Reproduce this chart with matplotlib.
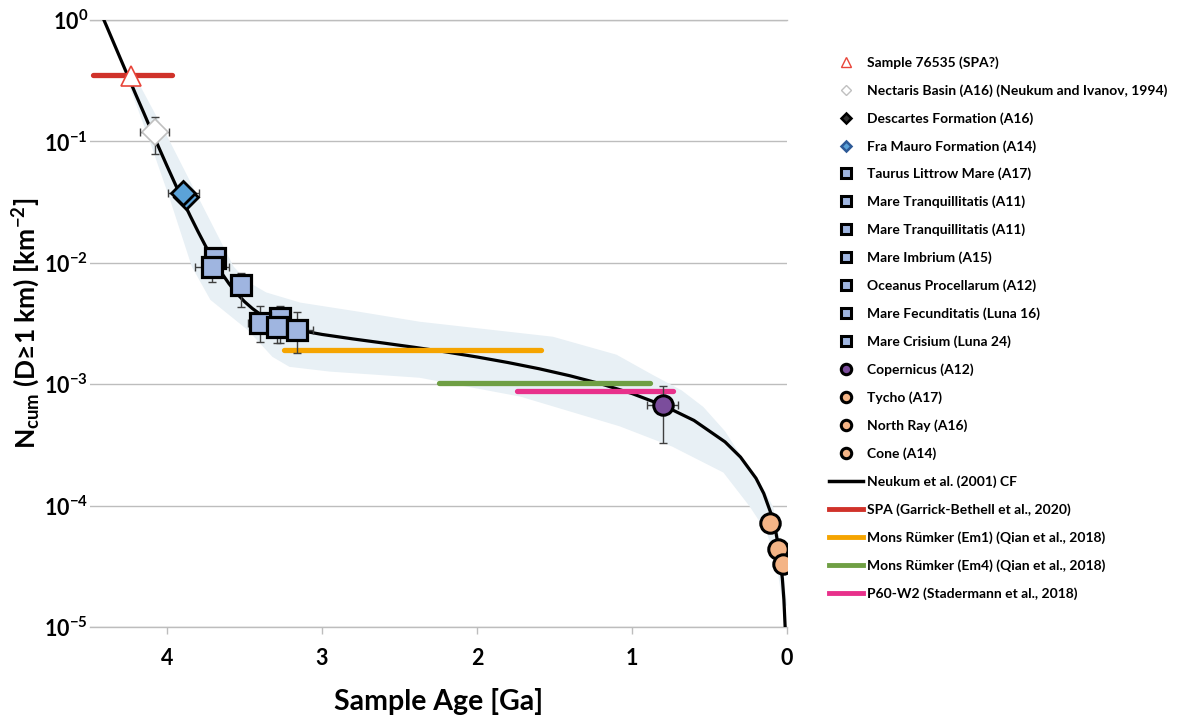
import numpy as np
import matplotlib.pyplot as plt
from matplotlib.lines import Line2D
from matplotlib.ticker import NullLocator

plt.rcParams['font.family'] = ['Lato', 'DejaVu Sans']
plt.rcParams['font.weight'] = 'bold'
plt.rcParams['mathtext.fontset'] = 'custom'
plt.rcParams['mathtext.rm'] = 'Lato:bold'
plt.rcParams['mathtext.it'] = 'Lato:bold'
plt.rcParams['mathtext.bf'] = 'Lato:bold'

# -----------------------------
# data
# -----------------------------
# Neukum et al. (2001) chronology curve
curve_age = [4.41, 4.39, 4.35, 4.30, 4.25, 4.20, 4.15, 4.10, 4.05, 4.00, 3.95, 3.90,
             3.85, 3.80, 3.75, 3.70, 3.65, 3.60, 3.55, 3.50, 3.45, 3.40, 3.35, 3.30,
             3.20, 3.10, 3.00, 2.80, 2.60, 2.40, 2.20, 2.00, 1.80, 1.60, 1.40, 1.20,
             1.00, 0.80, 0.60, 0.40, 0.30, 0.20, 0.15, 0.10, 0.07, 0.05, 0.03, 0.02, 0.012]
curve_n = [1.02, 0.891, 0.676, 0.479, 0.340, 0.241, 0.172, 0.122, 0.0875, 0.0628, 0.0454, 0.0330,
           0.0243, 0.0181, 0.01365, 0.01054, 0.00832, 0.00673, 0.00560, 0.00479, 0.00421, 0.00378, 0.00346, 0.00323,
           0.00291, 0.00271, 0.00257, 0.00236, 0.00218, 0.00201, 0.001844, 0.001676, 0.001508, 0.001341, 0.001173, 0.001006,
           8.38e-4, 6.70e-4, 5.03e-4, 3.35e-4, 2.51e-4, 1.68e-4, 1.26e-4, 8.38e-5, 5.87e-5, 4.19e-5, 2.51e-5, 1.68e-5, 1.0e-5]

# uncertainty band: upper (young side) and lower (old side) edges
band_up_age = [4.21, 3.98, 3.79, 3.57, 3.48, 3.36, 3.14, 2.76, 2.37, 1.51, 1.10, 0.87, 0.68, 0.54, 0.40,
               0.30, 0.18, 0.09, 0.045, 0.0]
band_up_n = [0.352, 0.099, 0.033, 9.3e-3, 7.0e-3, 5.7e-3, 4.7e-3, 3.95e-3, 3.27e-3, 2.46e-3, 1.75e-3,
             1.20e-3, 8.9e-4, 6.5e-4, 4.1e-4, 2.6e-4, 1.6e-4, 9.8e-5, 5.2e-5, 1.5e-5]
band_lo_age = [4.25, 4.11, 3.98, 3.84, 3.72, 3.48, 3.32, 3.21, 2.95, 2.37, 1.72, 1.08, 0.74, 0.41, 0.24, 0.13, 0.065, 0.026]
band_lo_n = [0.303, 0.099, 0.033, 9.3e-3, 4.95e-3, 2.8e-3, 1.68e-3, 1.39e-3, 1.27e-3, 1.13e-3, 7.9e-4, 4.5e-4, 3.06e-4, 1.87e-4, 9.8e-5, 6.0e-5, 3.15e-5, 1.5e-5]

# sample 76535
s76535_age = [4.23]
s76535_n = [0.346]

# Nectaris
nect_age = [4.08]
nect_n = [0.12]
nect_age_err = [0.095]
nect_n_lo = [0.079]
nect_n_hi = [0.159]

# Descartes / Fra Mauro
desc_age, desc_n = [3.875], [0.0349]
fram_age, fram_n = [3.895], [0.0377]
fram_age_err = [0.10]
fram_n_lo, fram_n_hi = [0.033], [0.042]

# maria
mare_names = ['Taurus Littrow Mare (A17)', 'Mare Tranquillitatis (A11)', 'Mare Tranquillitatis (A11)',
              'Mare Imbrium (A15)', 'Oceanus Procellarum (A12)', 'Mare Fecunditatis (Luna 16)',
              'Mare Crisium (Luna 24)']
mare_age = [3.69, 3.71, 3.52, 3.29, 3.16, 3.40, 3.27]
mare_n = [0.0110, 0.0093, 0.0066, 0.00297, 0.00281, 0.0032, 0.00353]
mare_age_err = [0.05, 0.11, 0.04, 0.05, 0.10, 0.08, 0.05]
mare_n_lo = [0.0085, 0.0070, 0.00435, 0.0022, 0.00182, 0.00224, 0.0022]
mare_n_hi = [0.0133, 0.0115, 0.0083, 0.0036, 0.0039, 0.00437, 0.00437]
mare_draw_order = [0, 1, 2, 6, 5, 3, 4]

# craters
cop_age, cop_n = [0.80], [6.7e-4]
cop_age_err = [0.10]
cop_n_lo, cop_n_hi = [3.3e-4], [9.7e-4]
young_names = ['Tycho (A17)', 'North Ray (A16)', 'Cone (A14)']
young_age = [0.11, 0.058, 0.026]
young_n = [7.2e-5, 4.35e-5, 3.3e-5]

# model age ranges
spa_range, spa_n = [4.48, 3.97], 0.355
em1_range, em1_n = [3.245, 1.587], 1.92e-3
em4_range, em4_n = [2.245, 0.884], 1.03e-3
p60_range, p60_n = [1.742, 0.735], 8.85e-4

# -----------------------------
# colours
# -----------------------------
c_band = '#e8f0f5'
c_grid = '#bdbdbd'
c_err = '#3f3f3f'
c_mare = '#9fb5e0'
c_fram = '#5ba2d8'
c_cop = '#7b4d9c'
c_young = '#f4b486'
c_spa = '#d0322a'
c_em1 = '#f5a400'
c_em4 = '#6f9f44'
c_p60 = '#e8318b'

fig = plt.figure(figsize=(11.77, 7.15), dpi=100)
ax = fig.add_axes([89.5/1177, 1-627/715, 697.5/1177, 607/715])

# band
band_x = band_up_age + band_lo_age[::-1]
band_y = band_up_n + band_lo_n[::-1]
ax.fill(band_x, band_y, color=c_band, lw=0, zorder=1)

ax.plot(curve_age, curve_n, color='black', lw=2.3, zorder=3)

# range lines
for rng, n, col in [(spa_range, spa_n, c_spa), (em1_range, em1_n, c_em1),
                    (em4_range, em4_n, c_em4), (p60_range, p60_n, c_p60)]:
    ax.plot(rng, [n, n], color=col, lw=3.8, solid_capstyle='round', zorder=4)

eb = dict(fmt='none', ecolor=c_err, elinewidth=1.0, capsize=3, capthick=1.0, zorder=5)

# sample 76535
ax.plot(s76535_age, s76535_n, ls='none', marker='^', ms=14, mfc='white', mec='#e8453a', mew=1.2, zorder=6)

# Nectaris
ax.errorbar(nect_age, nect_n, xerr=nect_age_err,
            yerr=[np.subtract(nect_n, nect_n_lo), np.subtract(nect_n_hi, nect_n)], **eb)
ax.plot(nect_age, nect_n, ls='none', marker='D', ms=13, mfc='white', mec='#c0c0c0', mew=1.2, zorder=6)

# Descartes + Fra Mauro
ax.errorbar(fram_age, fram_n, xerr=fram_age_err,
            yerr=[np.subtract(fram_n, fram_n_lo), np.subtract(fram_n_hi, fram_n)], **eb)
ax.plot(desc_age, desc_n, ls='none', marker='D', ms=12.5, mfc=c_fram, mec='black', mew=2, zorder=6)
ax.plot(fram_age, fram_n, ls='none', marker='D', ms=12.5, mfc=c_fram, mec='black', mew=2, zorder=6.5)

# maria
for k, i in enumerate(mare_draw_order):
    ax.errorbar([mare_age[i]], [mare_n[i]], xerr=[mare_age_err[i]],
                yerr=[[mare_n[i] - mare_n_lo[i]], [mare_n_hi[i] - mare_n[i]]], **eb)
    ax.plot([mare_age[i]], [mare_n[i]], ls='none', marker='s', ms=14.5, mfc=c_mare,
            mec='black', mew=2.3, zorder=6 + 0.1*k)

# Copernicus
ax.errorbar(cop_age, cop_n, xerr=cop_age_err,
            yerr=[np.subtract(cop_n, cop_n_lo), np.subtract(cop_n_hi, cop_n)], **eb)
ax.plot(cop_age, cop_n, ls='none', marker='o', ms=14, mfc=c_cop, mec='black', mew=2.2, zorder=6)

# young craters
for k in range(len(young_age)):
    ax.plot([young_age[k]], [young_n[k]], ls='none', marker='o', ms=14, mfc=c_young,
            mec='black', mew=2.2, zorder=6 + 0.1*k)

# axes
ax.set_yscale('log')
ax.set_xlim(4.5, 0)
ax.set_ylim(1e-5, 1)
ax.set_yticks([1e-5, 1e-4, 1e-3, 1e-2, 1e-1, 1])
ax.set_yticklabels([r'$10^{%d}$' % e for e in [-5, -4, -3, -2, -1, 0]])
ax.yaxis.set_minor_locator(NullLocator())
ax.set_xticks([4, 3, 2, 1, 0])
ax.set_xticklabels(['4', '3', '2', '1', '0'])
ax.tick_params(axis='y', length=0, pad=1, labelsize=15.5)
ax.tick_params(axis='x', direction='out', length=5, width=1, color=c_grid, pad=10, labelsize=15.5)
ax.grid(axis='y', color=c_grid, lw=1)
ax.set_axisbelow(True)
for s in ['left', 'right']:
    ax.spines[s].set_visible(False)
for s in ['top', 'bottom']:
    ax.spines[s].set_color(c_grid)
    ax.spines[s].set_linewidth(1)

ax.set_xlabel('Sample Age [Ga]', fontsize=20.5, fontweight='bold', labelpad=14)
ax.set_ylabel(r'N$_{\mathrm{cum}}$ (D≥1 km) [km$^{-2}$]', fontsize=19, fontweight='bold')
ax.yaxis.set_label_coords(-0.068, 0.5)

# legend
def mk(marker, ms, fc, ec, mew):
    return Line2D([], [], ls='none', marker=marker, ms=ms, mfc=fc, mec=ec, mew=mew)

handles = [mk('^', 7, 'white', '#e8453a', 1.0),
           mk('D', 5, 'white', '#c0c0c0', 1.0),
           mk('D', 5.5, '#303030', 'black', 1.8),
           mk('D', 5.5, c_fram, '#2e5a96', 1.8)]
handles += [mk('s', 7.5, c_mare, 'black', 2.2) for _ in mare_names]
handles += [mk('o', 7.5, c_cop, 'black', 2.2)]
handles += [mk('o', 7.5, c_young, 'black', 2.2) for _ in young_names]
handles += [Line2D([], [], color='black', lw=2.5),
            Line2D([], [], color=c_spa, lw=3.5),
            Line2D([], [], color=c_em1, lw=3.5),
            Line2D([], [], color=c_em4, lw=3.5),
            Line2D([], [], color=c_p60, lw=3.5)]
labels = ['Sample 76535 (SPA?)', 'Nectaris Basin (A16) (Neukum and Ivanov, 1994)',
          'Descartes Formation (A16)', 'Fra Mauro Formation (A14)'] + mare_names + \
         ['Copernicus (A12)'] + young_names + \
         ['Neukum et al. (2001) CF', 'SPA (Garrick-Bethell et al., 2020)',
          'Mons Rümker (Em1) (Qian et al., 2018)', 'Mons Rümker (Em4) (Qian et al., 2018)',
          'P60-W2 (Stadermann et al., 2018)']

fig.legend(handles, labels, loc='upper left', bbox_to_anchor=(829/1177, 1-56/715),
           frameon=False, fontsize=10, handlelength=2.45, handletextpad=0.3,
           labelspacing=1.1, borderpad=0, borderaxespad=0)

fig.savefig('out.png', dpi=100)
